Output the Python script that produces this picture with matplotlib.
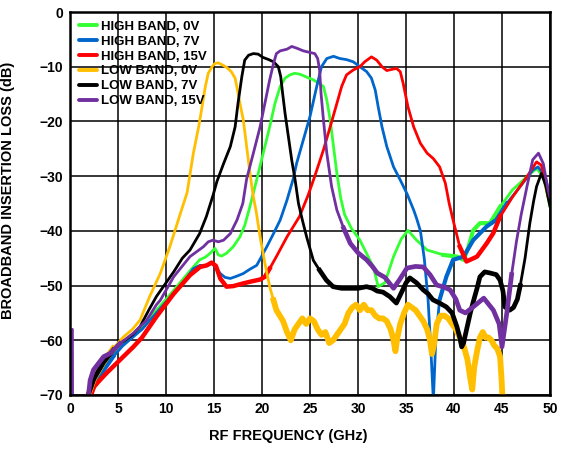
"""Broadband insertion loss vs RF frequency, high/low band at several tuning voltages."""

import matplotlib.pyplot as plt
import numpy as np

plt.rcParams["font.family"] = ["Liberation Sans", "DejaVu Sans"]
plt.rcParams["font.weight"] = "bold"

# Values (GHz, dB).
high_0v_x = [2.0, 2.5, 3.5, 4.5, 5.5, 6.5, 7.5, 9.0, 10.5, 12.5,
             13.5, 14.1, 14.6, 15.1, 15.45, 15.8, 16.3, 17.0, 17.7, 18.2,
             18.75, 19.4, 20.1, 20.8, 21.35, 21.9, 22.4, 22.9, 23.4, 24.0,
             24.65, 25.35, 25.9, 26.4, 26.75, 27.1, 27.45, 27.8, 28.2, 28.6,
             29.3, 30.2, 31.0, 31.6, 32.1, 32.8, 33.7, 34.5, 35.2, 36.1,
             37.2, 38.9, 40.3, 41.0, 41.5, 42.0, 42.7, 43.75, 44.8, 46.1,
             47.6, 48.6, 49.3, 50]
high_0v_y = [-70, -68.5, -65, -62.5, -60.5, -59, -57.5, -54.5, -51.5, -47.3,
             -45.3, -44.8, -44.1, -43.2, -44.4, -44.6, -44.1, -42.9, -41.1, -39,
             -35.5, -31, -26, -21, -16.7, -13.6, -12.1, -11.5, -11.2, -11.4,
             -11.9, -12.4, -13, -13.6, -16.1, -19.7, -24.6, -29.5, -34, -37,
             -39.5, -41.7, -44.5, -46.6, -50.2, -49.5, -44.7, -41.5, -39.9, -41.7,
             -43.5, -44.4, -44.7, -45.3, -43, -39.9, -38.6, -38.6, -35.6, -32.5,
             -30.1, -28.6, -30.1, -35.6]

high_7v_x = [2.0, 2.5, 3.5, 4.5, 5.5, 6.5, 7.5, 9.0, 10.5, 12.0,
             12.85, 13.55, 14.25, 14.75, 15.2, 15.65, 16.15, 16.7, 17.35, 18.05,
             18.75, 19.45, 19.95, 20.5, 21.2, 21.9, 22.6, 23.25, 23.6, 24.3,
             25.0, 25.7, 26.2, 26.75, 27.45, 28.1, 28.8, 29.5, 30.2, 30.9,
             31.4, 31.8, 32.1, 32.5, 33.0, 33.7, 34.4, 35.1, 35.8, 36.1,
             36.5, 36.9, 37.3, 37.6, 37.85, 38.1, 38.5, 39.2, 39.9, 41.0,
             42.0, 43.4, 44.4, 45.5, 46.9, 48.2, 48.75, 49.5, 50]
high_7v_y = [-70, -68.5, -65.5, -63, -61, -59.5, -58, -55, -52, -49,
             -46.9, -46.3, -46.4, -45.9, -46.7, -47.8, -48.5, -48.7, -48.3, -47.8,
             -47, -46.3, -44.7, -42.9, -40.5, -38, -34.4, -30.5, -27.7, -23.4,
             -19.1, -13.6, -10, -8.5, -8.1, -8.5, -8.7, -9.1, -10, -10.9,
             -12.1, -14.3, -17.3, -21, -24.6, -28.3, -30.7, -33.2, -36.2, -37.7,
             -40, -45, -52.6, -62, -71, -60, -52.6, -48.4, -45.3, -44.7,
             -41.7, -39.2, -38, -35, -31.9, -28.9, -28.3, -30.1, -33.8]

high_15v_x = [2.0, 2.5, 3.0, 3.8, 5.2, 6.6, 7.5, 9.0, 10.8, 12.5,
              13.55, 14.25, 14.75, 15.2, 15.65, 16.3, 17.0, 18.05, 18.75, 19.8,
              20.3, 20.8, 21.5, 22.6, 23.9, 24.8, 25.5, 26.4, 27.1, 27.8,
              28.3, 28.8, 29.5, 30.2, 30.7, 31.4, 31.95, 32.5, 33.0, 33.5,
              34.0, 34.4, 34.7, 35.2, 35.8, 36.5, 37.2, 37.85, 38.5, 39.1,
              39.5, 39.9, 40.6, 41.3, 42.4, 43.4, 44.1, 44.8, 46.1, 47.6,
              48.6, 49.1, 49.8, 50]
high_15v_y = [-71, -68.5, -67.5, -66, -63.6, -61.2, -59.5, -55.7, -51.5, -48.1,
              -46.6, -46.3, -45.8, -46.4, -48.7, -50.2, -50.1, -49.6, -49.3, -48.9,
              -48.4, -46.9, -44.7, -41.1, -37.4, -33.5, -30, -25.2, -21, -16.7,
              -13.6, -11.5, -10.6, -10, -9.1, -8.2, -8.8, -10, -10.7, -10.5,
              -10.3, -10.9, -13, -17.3, -21, -24, -25.8, -26.8, -28.3, -31.3,
              -35, -38, -42.9, -45.6, -44.7, -42.3, -40.4, -37.4, -33.8, -30.1,
              -27.4, -28, -33.8, -35]

low_0v_x = [1.9, 2.5, 3.5, 4.5, 5.5, 6.5, 7.3, 8.3, 9.4, 10.4,
            11.5, 12.2, 12.85, 13.4, 13.7, 14.1, 14.4, 14.8, 15.1, 15.45,
            15.8, 16.3, 16.8, 17.2, 17.45, 17.7, 18.05, 18.4, 18.75, 19.1,
            19.4, 19.8, 20.3, 20.8, 21.2, 21.5, 22.2,
            22.6, 23.0, 23.4, 23.8, 24.2, 24.6, 25.0, 25.4, 25.8, 26.2,
            26.6, 27.0, 27.4, 27.8, 28.2, 28.6, 29.0, 29.4, 29.8, 30.2,
            30.6, 31.0, 31.4, 31.8, 32.2, 32.6, 33.0, 33.4, 33.7, 33.9,
            34.1, 34.4, 34.8, 35.2, 35.6, 36.0, 36.4, 36.8, 37.2, 37.5,
            37.7, 37.9, 38.2, 38.6, 39.0, 39.4, 39.8, 40.2, 40.6, 41.0,
            41.4, 41.7, 41.9, 42.1, 42.4, 42.7, 43.0, 43.3, 43.6, 43.9,
            44.2, 44.5, 44.8, 44.95, 45.05, 45.15]
low_0v_y = [-70, -67, -64, -61.5, -59.5, -58, -56.3, -52, -47.8, -42.9,
            -36.8, -33, -25.8, -21, -17.9, -13.6, -11.2, -10, -9.4, -9.3,
            -9.6, -10.1, -10.9, -12.1, -14.3, -16.7, -19.7, -24.6, -29.5, -33.8,
            -36.5, -41.1, -45.9, -50.2, -52.7, -54.5, -56.5,
            -58.5, -60, -58, -57, -56, -57, -56, -56.5, -58, -59,
            -58.5, -60.5, -60, -59, -58, -57, -55, -54, -53.5, -54.5,
            -53.5, -54.5, -54.5, -55.5, -56, -56, -56.5, -58, -60, -62,
            -59.5, -57, -55, -53.5, -54, -54.5, -55.5, -56.5, -58, -60,
            -62.5, -61, -57, -55.5, -55.5, -56, -57, -58, -59.5, -61,
            -63.5, -67, -69, -65, -62, -59.5, -58.5, -59.5, -59.5, -60,
            -61, -61.5, -63, -67, -70.5, -72]

low_7v_x = [1.9, 2.5, 3.5, 4.5, 5.5, 6.5, 7.3, 8.2, 9.0, 10.0,
            10.8, 11.7, 12.5, 13.5, 14.2, 14.9, 15.3, 16.0, 16.7, 17.2,
            17.5, 17.9, 18.2, 18.6, 19.1, 19.6, 20.1, 20.7, 21.2, 21.7,
            21.95, 22.15, 22.4, 22.75, 23.1, 23.45, 23.8, 24.2, 24.65, 25.35,
            26.0, 26.7, 27.4, 28.3, 29.2, 30.0, 30.9, 31.5, 32.0, 32.6,
            33.3, 34.0, 34.6, 35.0, 35.4, 36.1, 36.8, 37.3, 37.8, 38.5,
            39.2, 39.8, 40.3, 40.6, 40.8, 41.0, 41.3, 41.7, 42.0, 42.4,
            42.7, 43.2, 43.75, 44.4, 44.8, 45.1, 45.3, 45.8, 46.2, 46.6,
            46.9, 47.4, 47.9, 48.3, 48.6, 49.1, 49.6, 50]
low_7v_y = [-70, -67, -64, -61.8, -60.3, -59, -57.5, -54.5, -52, -49.5,
            -47.5, -45, -43.5, -40.5, -37.4, -33.5, -31, -27.7, -24.6, -21,
            -16.7, -11.8, -8.8, -7.9, -7.6, -7.7, -8.3, -8.7, -9.1, -10,
            -11.8, -14.9, -18.5, -22.8, -27.1, -30.7, -35, -38, -41.1, -45.4,
            -47.2, -49, -50.2, -50.5, -50.5, -50.5, -50.2, -50.5, -51, -51.2,
            -52, -53.2, -51, -49.5, -48.6, -49.5, -50.8, -51.5, -52.6, -53.2,
            -53.9, -55, -57.5, -59.5, -61.2, -60.5, -58.1, -55, -53, -50.5,
            -48.4, -47.5, -47.7, -48, -49, -51, -53.9, -54.5, -54, -52.5,
            -50, -45, -38.6, -34.5, -31.9, -29.5, -31.9, -35.6]

low_15v_x = [0.25, 0.27, 1.8, 2.1, 2.45, 3.5, 4.2, 5.2, 6.6, 7.3,
             8.0, 9.0, 9.4, 10.8, 12.5, 13.9, 14.4, 14.9, 15.45, 16.0,
             16.7, 17.4, 18.0, 18.4, 19.1, 19.8, 20.3, 20.8, 21.2, 21.5,
             21.9, 22.6, 23.1, 23.6, 24.3, 25.0, 25.5, 25.8, 26.0, 26.15,
             26.4, 26.75, 27.25, 27.8, 28.5, 29.2, 30.0, 30.9, 31.5, 32.0,
             32.8, 33.7, 34.3, 35.1, 36.0, 36.8, 37.5, 38.2, 39.0, 39.6,
             40.2, 40.6, 41.2, 42.0, 43.1, 44.1, 44.7, 45.0, 45.5, 46.0,
             46.5, 47.0, 47.6, 48.2, 48.8, 49.3, 49.8, 50]
low_15v_y = [-58, -72, -72, -67.3, -65.4, -63, -62.4, -60.6, -58.7, -57.5,
             -56.3, -53.5, -52.7, -48.4, -44.7, -42.9, -42, -41.7, -42, -41.7,
             -40.5, -38, -35, -30.5, -25.8, -21, -16.7, -12.4, -9.4, -7.6,
             -7.1, -6.8, -6.3, -6.6, -7.1, -7.4, -7.6, -8.5, -10.6, -14.9,
             -19.7, -25.8, -31.9, -36.2, -39.5, -42.3, -44, -45.3, -46.5, -47.7,
             -48.5, -50.5, -49, -46.8, -46.5, -46.6, -48, -49.9, -50.3, -50.8,
             -52.5, -54.5, -55, -53.9, -52.3, -54.5, -57, -61.2, -55, -48,
             -42, -37, -31.9, -27, -25.8, -27.7, -32.5, -34]

series = [
    ("HIGH BAND, 0V", high_0v_x, high_0v_y, "#33FF33"),
    ("HIGH BAND, 7V", high_7v_x, high_7v_y, "#0066CC"),
    ("HIGH BAND, 15V", high_15v_x, high_15v_y, "#FF0000"),
    ("LOW BAND, 0V", low_0v_x, low_0v_y, "#FFBF00"),
    ("LOW BAND, 7V", low_7v_x, low_7v_y, "#000000"),
    ("LOW BAND, 15V", low_15v_x, low_15v_y, "#7030A0"),
]

# Frequency spans where the measured trace is noisy (drawn heavier), and the weight.
noisy_spans = {
    "HIGH BAND, 0V": ([(1.5, 5.0), (38.0, 46.0)], 3.0),
    "HIGH BAND, 7V": ([(1.5, 5.0), (38.5, 46.0)], 3.0),
    "HIGH BAND, 15V": ([(1.5, 21.0), (40.5, 46.0)], 3.2),
    "LOW BAND, 0V": ([(1.5, 5.0), (21.0, 46.0)], 4.2),
    "LOW BAND, 7V": ([(1.5, 5.0), (26.0, 47.0)], 3.4),
    "LOW BAND, 15V": ([(1.5, 6.0), (28.0, 46.0)], 3.4),
}

fig = plt.figure(figsize=(5.62, 4.5), dpi=100)
ax = fig.add_axes([70 / 562, 1 - 395 / 450, 480 / 562, 383 / 450])

for label, xs, ys, color in series:
    xs = np.asarray(xs)
    ys = np.asarray(ys)
    ax.plot(xs, ys, color=color, linewidth=2.0, label=label,
            solid_joinstyle="round", solid_capstyle="round")
    spans, lw = noisy_spans[label]
    for lo, hi in spans:
        m = (xs >= lo) & (xs <= hi)
        ax.plot(xs[m], ys[m], color=color, linewidth=lw, solid_joinstyle="round")

ax.set_xlim(0, 50)
ax.set_ylim(-70, 0)
ax.set_xticks(range(0, 51, 5))
ax.set_yticks(range(-70, 1, 10))
ax.set_yticklabels([f"\u2212{abs(v)}" if v < 0 else "0" for v in range(-70, 1, 10)])
ax.tick_params(length=0, labelsize=10, pad=5)
ax.grid(True, color="#000000", linewidth=1.1)
ax.set_axisbelow(True)
for spine in ax.spines.values():
    spine.set_linewidth(1.8)
    spine.set_zorder(5)

ax.set_xlabel("RF FREQUENCY (GHz)", fontsize=10.5, fontweight="bold")
ax.set_ylabel("BROADBAND INSERTION LOSS (dB)", fontsize=10.5, fontweight="bold")
ax.xaxis.set_label_coords(0.455, -0.09)
ax.yaxis.set_label_coords(-0.115, 0.535)

leg = ax.legend(loc="upper left", frameon=False, fontsize=9.5, handlelength=1.4,
                handletextpad=0.3, labelspacing=0.2, borderaxespad=0.45,
                borderpad=0.2)
for line in leg.get_lines():
    line.set_linewidth(2.8)

fig.savefig("out.png", dpi=100)
plt.close(fig)
